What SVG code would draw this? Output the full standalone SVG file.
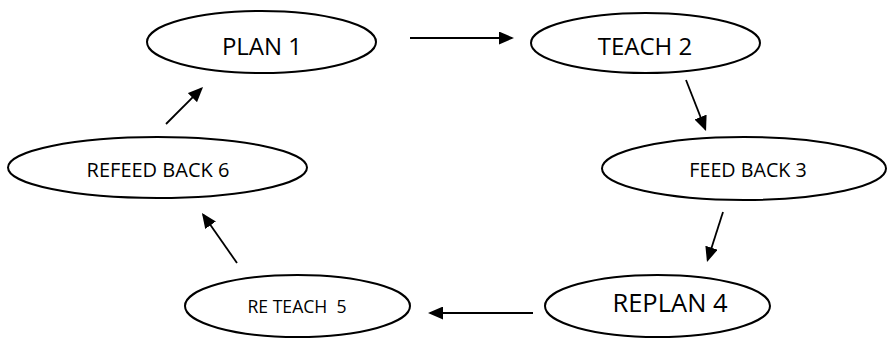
<svg xmlns="http://www.w3.org/2000/svg" width="888" height="338" viewBox="0 0 888 338">
<style>
.node ellipse{fill:#fff;stroke:#000;stroke-width:2}
.node text{font-family:"Open Sans","Liberation Sans",sans-serif;fill:#000;text-anchor:middle;white-space:pre}
.edge{stroke:#000;stroke-width:1.8;fill:none;marker-end:url(#ah)}
</style>
<defs>
<marker id="ah" markerUnits="userSpaceOnUse" markerWidth="15" markerHeight="13" refX="13" refY="6.5" orient="auto" viewBox="0 0 15 13">
<path d="M0,0 L15,6.5 L0,13 z" fill="#000"/>
</marker>
</defs>
<rect width="888" height="338" fill="#fff"/>
<g id="connectors">
<line class="edge" x1="410" y1="38" x2="512" y2="38"/>
<line class="edge" x1="686" y1="80" x2="705.3" y2="129.1"/>
<line class="edge" x1="723" y1="212" x2="707.6" y2="260.1"/>
<line class="edge" x1="533" y1="313" x2="430" y2="313"/>
<line class="edge" x1="237" y1="263" x2="203.1" y2="214.6"/>
<line class="edge" x1="166" y1="124" x2="201.6" y2="88.4"/>
</g>
<g id="plan1" class="node">
<ellipse cx="261.5" cy="42" rx="114.5" ry="31"/>
<text x="262" y="55" font-size="24">PLAN 1</text>
</g>
<g id="teach2" class="node">
<ellipse cx="645.5" cy="43" rx="114.5" ry="30"/>
<text x="645" y="55" font-size="24">TEACH 2</text>
</g>
<g id="feedback3" class="node">
<ellipse cx="744" cy="168.5" rx="142" ry="31.5"/>
<text x="748" y="177" font-size="19.7">FEED BACK 3</text>
</g>
<g id="replan4" class="node">
<ellipse cx="657.5" cy="306" rx="112.5" ry="31"/>
<text x="670" y="312" font-size="25.5">REPLAN 4</text>
</g>
<g id="reteach5" class="node">
<ellipse cx="297.5" cy="306" rx="112.5" ry="31"/>
<text x="297" y="313" font-size="17.6" xml:space="preserve">RE TEACH  5</text>
</g>
<g id="refeedback6" class="node">
<ellipse cx="157.5" cy="167.5" rx="149.5" ry="30.5"/>
<text x="158" y="177" font-size="20">REFEED BACK 6</text>
</g>
</svg>
